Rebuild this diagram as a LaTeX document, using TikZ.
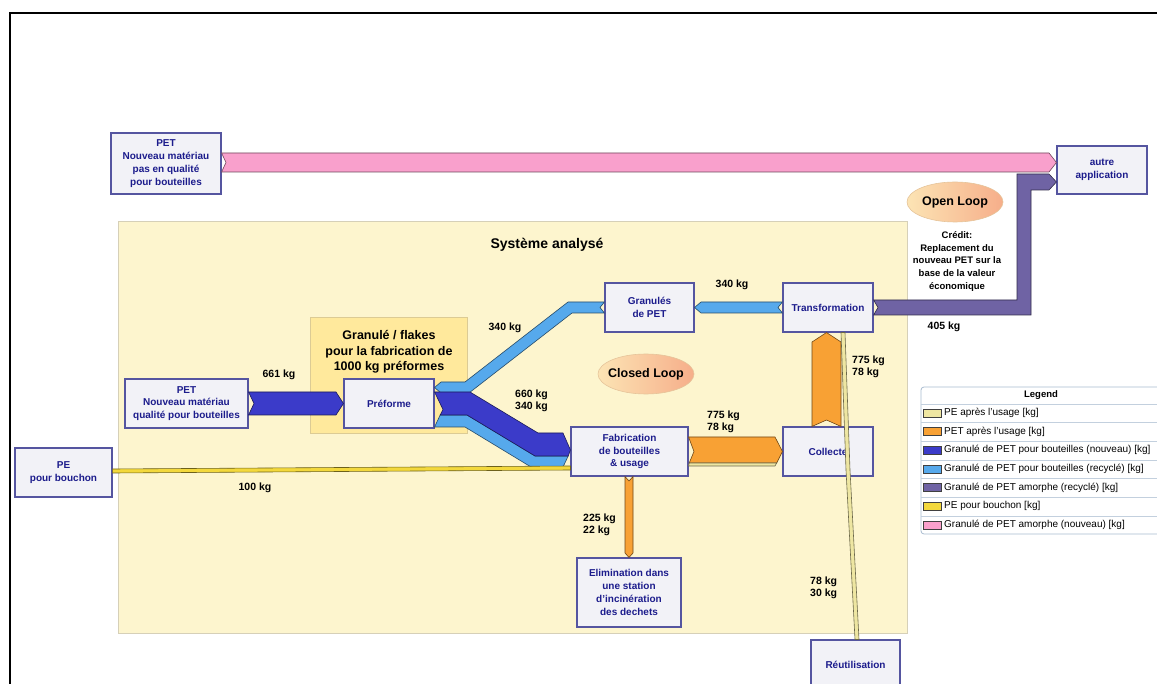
\documentclass[tikz,border=0pt]{standalone}
\usepackage{fontspec}
\setmainfont{Liberation Sans}
\usepackage{tikz}
\usetikzlibrary{calc,shapes.geometric,positioning}

\definecolor{boxfill}{HTML}{F2F2F7}
\definecolor{boxline}{HTML}{5555A0}
\definecolor{boxtext}{HTML}{1C1C8C}
\definecolor{sysfill}{HTML}{FDF5CE}
\definecolor{sysline}{HTML}{D6D0B8}
\definecolor{prefill}{HTML}{FFE99C}
\definecolor{preline}{HTML}{DCCB94}
\definecolor{pinkflow}{HTML}{F9A0CC}
\definecolor{purpflow}{HTML}{6F63A4}
\definecolor{darkblue}{HTML}{3B3BC9}
\definecolor{lightblue}{HTML}{56A9EC}
\definecolor{orangeflow}{HTML}{F8A134}
\definecolor{khaki}{HTML}{EEE6A2}
\definecolor{yellowflow}{HTML}{F3D83C}
\definecolor{loopleft}{HTML}{FCE4B4}
\definecolor{loopright}{HTML}{F6AE8A}
\definecolor{loopline}{HTML}{E6C49A}
\definecolor{legline}{HTML}{A9BCD0}

\begin{document}
\begin{tikzpicture}[x=1pt,y=-1pt,
		box/.style={draw=boxline, fill=boxfill, line width=1.1pt, text=boxtext, align=center, inner sep=1pt, font=\fontsize{10}{12.8}\selectfont\bfseries},
		flow/.style={fill=#1, draw=#1!45!black, line width=0.6pt, line join=miter},
		qty/.style={font=\fontsize{10.5}{12.5}\selectfont\bfseries, align=left, inner sep=0pt},
		loopell/.style={ellipse, draw=loopline, line width=0.6pt, left color=loopleft, right color=loopright, minimum width=96pt, minimum height=40pt, inner sep=0pt},
		looptext/.style={font=\fontsize{12.5}{15}\selectfont\bfseries},
		swatch/.style={draw=black!75, line width=0.6pt}]
		
		\useasboundingbox (0,0) rectangle (1157,684);
		\fill[white] (0,0) rectangle (1157,684);
		
		\draw[line width=2.2pt] (10,690) -- (10,13) -- (1165,13);
		
		
		\fill[sysfill] (118,222) rectangle (907,633);
		\draw[sysline, line width=1pt] (118,222) rectangle (907,633);
		\node (systitle) at (547,245)[font=\fontsize{14}{16}\selectfont\bfseries] {Système analysé};
		
		\filldraw[fill=prefill, draw=preline, line width=1pt] (310,318) rectangle (467,434);
		\node (pretitle) at (389,352)[align=center, font=\fontsize{12.5}{15.5}\selectfont\bfseries] {Granulé / flakes\\pour la fabrication de\\1000 kg préformes};
		
		
		\node (petneu) at (166,163.5)[box, minimum width=110pt, minimum height=61pt] {PET\\Nouveau matériau\\pas en qualité\\pour bouteilles};
		\node (autre) at (1102,170)[box, minimum width=90pt, minimum height=48pt] {autre\\application};
		\node (petbout) at (186.5,403.5)[box, minimum width=123pt, minimum height=49pt] {PET\\Nouveau matériau\\qualité pour bouteilles};
		\node (preforme) at (389,403.5)[box, minimum width=90pt, minimum height=49pt] {Préforme};
		\node (granules) at (649.5,307.5)[box, minimum width=89pt, minimum height=49pt] {Granulés\\de PET};
		\node (transfo) at (828,307.5)[box, minimum width=90pt, minimum height=49pt] {Transformation};
		\node (fabric) at (629.5,451.5)[box, minimum width=117pt, minimum height=49pt] {Fabrication\\de bouteilles\\\& usage};
		\node (collecte) at (828,451.5)[box, minimum width=90pt, minimum height=49pt] {Collecte};
		\node (elimin) at (629,592.5)[box, minimum width=104pt, minimum height=69pt] {Elimination dans\\une station\\d'incinération\\des dechets};
		\node (reutil) at (855.5,665)[box, minimum width=89pt, minimum height=50pt] {Réutilisation};
		\node (pebouch) at (63.5,472.5)[box, minimum width=97pt, minimum height=49pt] {PE\\pour bouchon};
		
		
		\node (openloop) at (955,202)[loopell] {};
		\node (opentxt) at (openloop)[looptext] {Open Loop};
		\node (credit) at (957,261.5)[align=center, font=\fontsize{9.5}{12.6}\selectfont\bfseries] {Crédit:\\Replacement du\\nouveau PET sur la\\base de la valeur\\économique};
		\node (closedloop) at (646,374)[loopell] {};
		\node (closedtxt) at (closedloop)[looptext] {Closed Loop};
		
		
		\draw[flow=pinkflow] (petneu.east |- 0,153) -- (1049,153) -- (autre.west |- 0,162.5) -- (1049,172) -- (petneu.east |- 0,172) -- (226,162.5) -- cycle;
		
		\draw[flow=purpflow] (transfo.east |- 0,300) -- (1017,300) -- (1017,174) -- (1049,174) -- (autre.west |- 0,182) -- (1049,190) -- (1031,190) -- (1031,315) -- (transfo.east |- 0,315) -- (878,307.5) -- cycle;
		
		\draw[flow=darkblue] (petbout.east |- 0,392) -- (336,392) -- (preforme.west |- 0,403.5) -- (336,415) -- (petbout.east |- 0,415) -- (254,403.5) -- cycle;
		
		\draw[flow=lightblue] (transfo.west |- 0,302) -- (701,302) -- (granules.east |- 0,307.5) -- (701,313) -- (transfo.west |- 0,313) -- (778,307.5) -- cycle;
		
		\draw[flow=lightblue] (granules.west |- 0,302) -- (568,302) -- (465,382) -- (441,382) -- (preforme.east |- 0,387.5) -- (441,393) -- (469,393) -- (572,313) -- (granules.west |- 0,313) -- (600,307.5) -- cycle;
		
		\draw[flow=lightblue] (440.2,415) -- (467,415) -- (535,456) -- (568.2,456) -- (563,467) -- (531,467) -- (465,427) -- (preforme.east |- 0,427) -- cycle;
		\draw[flow=darkblue] (preforme.east |- 0,392) -- (470,392) -- (538,433) -- (563,433) -- (fabric.west |- 0,450) -- (568.2,456) -- (535,456) -- (467,415) -- (440.2,415) -- (443,409.5) -- cycle;
		
		\draw[flow=yellowflow] (pebouch.east |- 0,469) -- (fabric.west |- 0,466) -- (fabric.west |- 0,470) -- (pebouch.east |- 0,473) -- cycle;
		
		\draw[flow=orangeflow] (fabric.east |- 0,437) -- (775,437) -- (collecte.west |- 0,451.5) -- (776.7,463) -- (689.2,463) -- (694,451.5) -- cycle;
		\draw[flow=khaki] (689.2,463) -- (776.7,463) -- (775,466) -- (fabric.east |- 0,466) -- cycle;
		
		\draw[flow=orangeflow] (collecte.north -| 812,0) -- (812,342) -- (transfo.south -| 826.5,0) -- (841,342) -- (collecte.north -| 841,0) -- (826.5,420) -- cycle;
		
		\draw[flow=khaki] (transfo.south -| 841,0) -- (transfo.south -| 845,0) -- (850,470) -- (reutil.north -| 859,0) -- (reutil.north -| 855,0) -- (846,470) -- cycle;
		
		\draw[flow=orangeflow] (fabric.south -| 625,0) -- (629,481) -- (fabric.south -| 633,0) -- (633,553) -- (elimin.north -| 629,0) -- (625,553) -- cycle;
		
		
		\node (q661) at (279,375)[qty] {661 kg};
		\node (q340a) at (505,328)[qty] {340 kg};
		\node (q660) at (515,401)[qty, anchor=west] {660 kg\\340 kg};
		\node (q340b) at (732,285)[qty] {340 kg};
		\node (q405) at (944,327)[qty] {405 kg};
		\node (q775a) at (852,367)[qty, anchor=west] {775 kg\\78 kg};
		\node (q775b) at (707,422)[qty, anchor=west] {775 kg\\78 kg};
		\node (q100) at (255,488)[qty] {100 kg};
		\node (q225) at (583,525)[qty, anchor=west] {225 kg\\22 kg};
		\node (q78) at (810,588)[qty, anchor=west] {78 kg\\30 kg};
		
		
		\filldraw[fill=white, draw=legline, line width=0.8pt, rounded corners=3pt] (921,387) rectangle (1180,534);
		\node (leghead) at (1041,395)[font=\fontsize{9.5}{11}\selectfont\bfseries] {Legend};
		\foreach \c/\t [count=\i] in {khaki/{PE après l'usage [kg]}, orangeflow/{PET après l'usage [kg]}, darkblue/{Granulé de PET pour bouteilles (nouveau) [kg]}, lightblue/{Granulé de PET pour bouteilles (recyclé) [kg]}, purpflow/{Granulé de PET amorphe (recyclé) [kg]}, yellowflow/{PE pour bouchon [kg]}, pinkflow/{Granulé de PET amorphe (nouveau) [kg]}} {
			\draw[legline!70] (921,385.3+\i*18.67) -- (1180,385.3+\i*18.67);
			\filldraw[swatch, fill=\c] (923,390.3+\i*18.67) rectangle (941,398.3+\i*18.67);
			\node (leg\i) at (944,394.3+\i*18.67)[anchor=west, inner sep=0pt, font=\fontsize{10}{12}\selectfont] {\t};
		}
		
	\end{tikzpicture}
\end{document}
